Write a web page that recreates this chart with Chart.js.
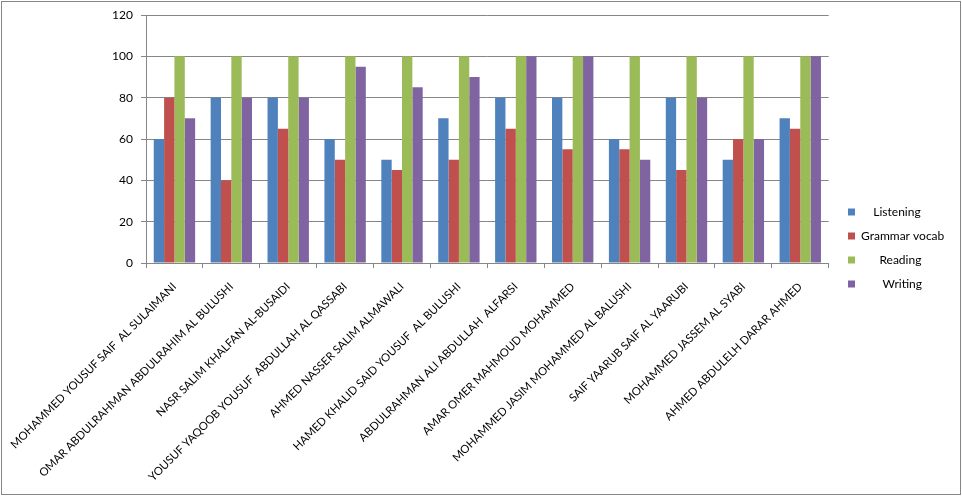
<!DOCTYPE html>
<html>
<head>
<meta charset="utf-8">
<script src="https://cdn.jsdelivr.net/npm/chart.js@4"></script>
<style>
  html, body { margin: 0; padding: 0; background: #ffffff; }
  #wrap { position: relative; width: 962px; height: 496px; }
  #frame { position: absolute; left: 1px; top: 1px; width: 958px; height: 492px; border: 1px solid #868686; pointer-events: none; }
  canvas { position: absolute; left: 0; top: 0; }
</style>
</head>
<body>
<div id="wrap">
  <canvas id="c" width="962" height="496"></canvas>
  <div id="frame"></div>
</div>
<script>
const students = [
  "MOHAMMED YOUSUF SAIF  AL SULAIMANI",
  "OMAR ABDULRAHMAN ABDULRAHIM AL BULUSHI",
  "NASR SALIM KHALFAN AL-BUSAIDI",
  "YOUSUF YAQOOB YOUSUF  ABDULLAH AL QASSABI",
  "AHMED NASSER SALIM ALMAWALI",
  "HAMED KHALID SAID YOUSUF  AL BULUSHI",
  "ABDULRAHMAN ALI ABDULLAH  ALFARSI",
  "AMAR OMER MAHMOUD MOHAMMED",
  "MOHAMMED JASIM MOHAMMED AL BALUSHI",
  "SAIF YAARUB SAIF AL YAARUBI",
  "MOHAMMED JASSEM AL SYABI",
  "AHMED ABDULELH DARAR AHMED"
];
const seriesNames = ["    Listening", "Grammar vocab", "      Reading", "       Writing"];
const listening = [60, 80, 80, 60, 50, 70, 80, 80, 60, 80, 50, 70];
const grammarVocab = [80, 40, 65, 50, 45, 50, 65, 55, 55, 45, 60, 65];
const reading = [100, 100, 100, 100, 100, 100, 100, 100, 100, 100, 100, 100];
const writing = [70, 80, 80, 95, 85, 90, 100, 100, 50, 80, 60, 100];
const yTicks = [0, 20, 40, 60, 80, 100, 120];

const colors = ["#4F81BD", "#C0504D", "#9BBB59", "#8064A2"];
const seriesData = [listening, grammarVocab, reading, writing];
const FONT = "Lato, 'Open Sans', sans-serif";
const gridColor = "#868686";

const legendShift = {
  id: "legendShift",
  afterLayout(chart) {
    const lg = chart.legend;
    if (!lg) return;
    const w = lg.width;
    lg.left = 836; lg.right = 836 + w;
    lg.top = 0; lg.bottom = 496; lg.height = 496;
  }
};

new Chart(document.getElementById("c"), {
  type: "bar",
  data: {
    labels: students,
    datasets: seriesData.map((d, i) => ({
      label: seriesNames[i],
      data: d,
      backgroundColor: colors[i],
      borderWidth: 0,
      categoryPercentage: 4 / 5.5,
      barPercentage: 1
    }))
  },
  options: {
    responsive: false,
    animation: false,
    devicePixelRatio: 1,
    layout: { padding: { left: 0, right: 15, top: 15, bottom: 0 } },
    plugins: {
      tooltip: { enabled: false },
      legend: {
        position: "right",
        labels: {
          boxWidth: 7,
          boxHeight: 7,
          padding: 12,
          color: "#000000",
          font: { family: FONT, size: 12 }
        }
      }
    },
    scales: {
      x: {
        afterFit(s) { s.height = 233; s.paddingLeft = 0; s.paddingRight = 0; },
        grid: { display: true, drawOnChartArea: false, drawTicks: true, tickLength: 5, color: gridColor, offset: true },
        border: { display: true, color: gridColor, width: 1 },
        ticks: {
          autoSkip: false,
          maxRotation: 45,
          minRotation: 45,
          padding: 12,
          color: "#000000",
          font: { family: FONT, size: 11.3 }
        }
      },
      y: {
        min: 0,
        max: 120,
        afterFit(s) { s.width = 146; s.paddingTop = 0; s.paddingBottom = 0; },
        afterBuildTicks(s) { s.ticks = yTicks.map(v => ({ value: v })); },
        grid: { color: gridColor, tickLength: 5, drawTicks: true },
        border: { display: true, color: gridColor, width: 1 },
        ticks: {
          stepSize: 20,
          padding: 8,
          color: "#000000",
          font: { family: FONT, size: 12 }
        }
      }
    }
  },
  plugins: [legendShift]
});
</script>
</body>
</html>
